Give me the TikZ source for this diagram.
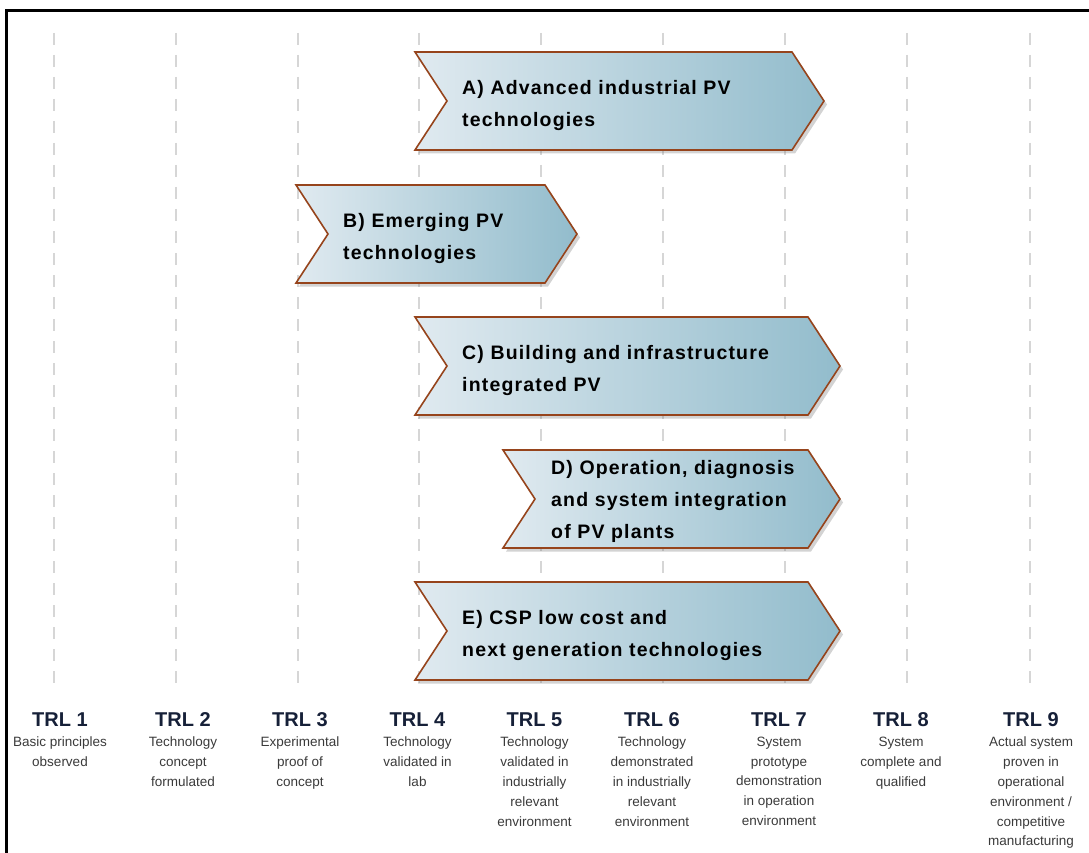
\documentclass[tikz,border=0pt]{standalone}
\usepackage{fontspec}
\setmainfont{Liberation Sans}
\newfontfamily\chevfont{Liberation Sans}[LetterSpace=6]
\usepackage{xcolor}
\usepackage{tikz}
\usetikzlibrary{positioning}
\usetikzlibrary{shadows}

\definecolor{trlnavy}{RGB}{22,32,56}
\definecolor{descgrey}{RGB}{58,58,58}
\definecolor{chevleft}{RGB}{224,234,240}
\definecolor{chevright}{RGB}{146,188,204}
\definecolor{chevedge}{RGB}{150,68,28}
\definecolor{gridgrey}{RGB}{214,214,214}

% chevron: left x, top y, tip x
\newcommand{\chevron}[3]{%
  \draw[chev style] (#1,#2) -- (#3-32,#2) -- (#3,#2+49) -- (#3-32,#2+98)
    -- (#1,#2+98) -- (#1+32,#2+49) -- cycle;}

\begin{document}
\begin{tikzpicture}[x=1pt,y=-1pt,
      grid style/.style={draw=gridgrey,line width=2.6pt,dash pattern=on 12pt off 10pt},
      chev style/.style={left color=chevleft,right color=chevright,draw=chevedge,
        line width=1.6pt,line join=miter,
        drop shadow={shadow xshift=3pt,shadow yshift=-3.5pt,opacity=.35}},
      label style/.style={anchor=base west,align=left,inner sep=0pt,
        font=\chevfont\bfseries\fontsize{19.5}{32}\selectfont},
      trl style/.style={anchor=base,inner sep=0pt,text=trlnavy,
        font=\bfseries\fontsize{20}{24}\selectfont},
      desc style/.style={align=center,inner sep=0pt,text=descgrey,
        font=\fontsize{13.5}{19.8}\selectfont}
      ]
      \useasboundingbox (0,0) rectangle (1089,853);

      % frame
      \draw[line width=2.2pt] (6.5,853) |- (1089,10.5);

      % TRL columns
      \foreach \gx in {54,176,298,419,541,663,785,907,1030}
        \draw[grid style] (\gx,33) -- (\gx,692);

      \foreach \i/\tx/\desc in {
          1/60/{Basic principles\\observed},
          2/183/{Technology\\concept\\formulated},
          3/300/{Experimental\\proof of\\concept},
          4/417.5/{Technology\\validated in\\lab},
          5/534.5/{Technology\\validated in\\industrially\\relevant\\environment},
          6/652/{Technology\\demonstrated\\in industrially\\relevant\\environment},
          7/779/{System\\prototype\\demonstration\\in operation\\environment},
          8/901/{System\\complete and\\qualified},
          9/1031/{Actual system\\proven in\\operational\\environment /\\competitive\\manufacturing}}{
        \node[trl style] (trl\i) at (\tx,726) {TRL \i};
        \node[desc style, below=10.5pt of trl\i] (desc\i) {\desc};
      }

      % technology areas (node base = last line)
      \chevron{415}{52}{824}
      \node[label style] (advpv) at (462,127) {A) Advanced industrial PV\\technologies};

      \chevron{296}{185}{577}
      \node[label style] (emgpv) at (343,259) {B) Emerging PV\\technologies};

      \chevron{415}{317}{840}
      \node[label style] (bipv) at (462,391) {C) Building and infrastructure\\integrated PV};

      \chevron{503}{450}{840}
      \node[label style] (operpv) at (551,538) {D) Operation, diagnosis\\and system integration\\of PV plants};

      \chevron{415}{582}{840}
      \node[label style] (csp) at (462,656) {E) CSP low cost and\\next generation technologies};

    \end{tikzpicture}
\end{document}
